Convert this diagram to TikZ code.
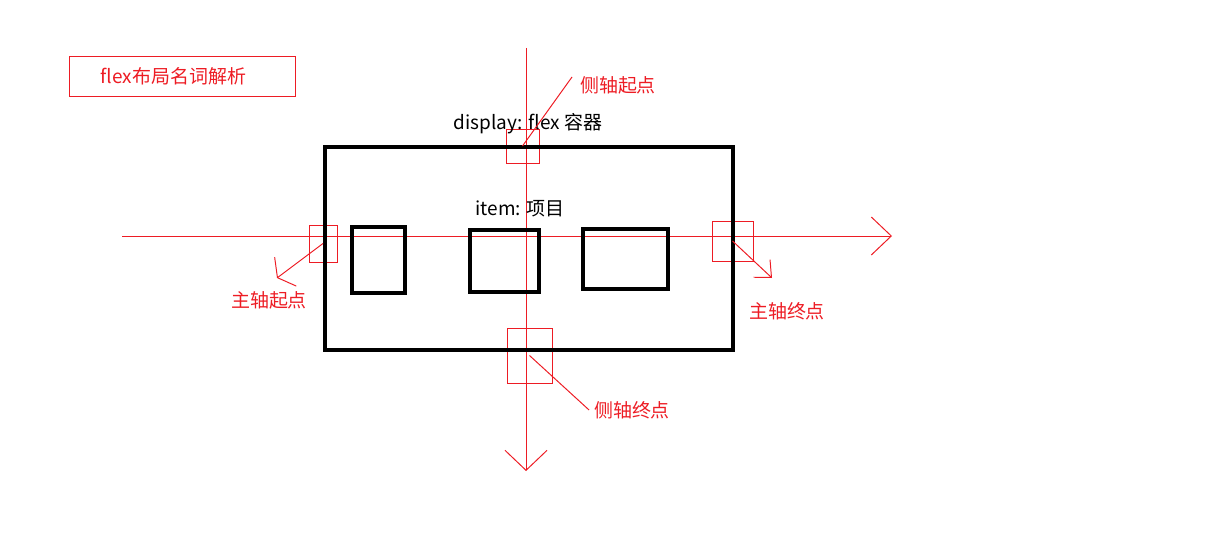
\documentclass[tikz,border=0pt]{standalone}
\usepackage{fontspec}
\setmainfont{Noto Sans CJK SC}
\usetikzlibrary{arrows.meta}
\usetikzlibrary{positioning}
\definecolor{paintred}{RGB}{237,28,36}

\begin{document}
\begin{tikzpicture}[x=0.025cm, y=-0.025cm,
    every node/.style={font=\fontsize{13.5}{16}\selectfont},
    redlabel/.style={text=paintred},
    markbox/.style={draw=paintred, line width=0.7pt, inner sep=0pt},
    flexbox/.style={draw=black, line width=3.2pt, inner sep=0pt},
    axis/.style={draw=paintred, line width=0.7pt}]
    \useasboundingbox (0,0) rectangle (1227,532);

    % title
    \node (titlebox) [markbox, minimum width=5.625cm, minimum height=1cm] at (182.5,76) {};
    \node (title) [redlabel] at (173.5,76) {flex布局名词解析};

    % the two axes
    \coordinate (mainstart) at (122,236);
    \coordinate (mainend) at (892,236);
    \coordinate (crossstart) at (526,48);
    \coordinate (crossend) at (526,471);
    \draw[axis, -{Straight Barb[length=0.5cm, width=0.95cm]}] (mainstart) -- (mainend);
    \draw[axis, -{Straight Barb[length=0.5cm, width=1.05cm]}] (crossstart) -- (crossend);

    % small marks where the axes meet the container
    \node (topmark) [markbox, minimum width=0.825cm, minimum height=0.85cm] at (522.5,146) {};
    \node (leftmark) [markbox, minimum width=0.7cm, minimum height=0.925cm] at (323,243.5) {};
    \node (rightmark) [markbox, minimum width=1.025cm, minimum height=1cm] at (732.5,241) {};
    \node (bottommark) [markbox, minimum width=1.125cm, minimum height=1.375cm] at (529.5,355.5) {};

    % container and items
    \node (container) [flexbox, minimum width=10.2cm, minimum height=5.075cm] at (529,248.5) {};
    \node (itemA) [flexbox, minimum width=1.325cm, minimum height=1.65cm] at (378.5,260) {};
    \node (itemB) [flexbox, minimum width=1.725cm, minimum height=1.55cm] at (504.5,261) {};
    \node (itemC) [flexbox, minimum width=2.125cm, minimum height=1.5cm] at (625.5,259) {};

    \node (containerlbl) at (528,124) {display: flex 容器};
    \node (itemlbl) at (520,209) {item: 项目};

    % labels
    \node (crossstartlbl) [redlabel] at (618,85) {侧轴起点};
    \node (mainstartlbl) [redlabel] at (269,300) {主轴起点};
    \node (mainendlbl) [redlabel] at (787,311) {主轴终点};
    \node (crossendlbl) [redlabel] at (632,410) {侧轴终点};

    \coordinate (crossstarttip) at (572,77);
    \coordinate (mainstarttip) at (277,278);
    \coordinate (mainendtip) at (772,278);

    \draw[axis] (topmark.center) -- (crossstarttip);
    \draw[axis, -{Straight Barb[length=0.25cm, width=0.9cm]}] (leftmark.center) -- (mainstarttip);
    \draw[axis, -{Straight Barb[length=0.33cm, width=0.6cm]}] (rightmark.center) -- (mainendtip);
    \draw[axis] (bottommark.center) -- (crossendlbl.west);
\end{tikzpicture}
\end{document}
